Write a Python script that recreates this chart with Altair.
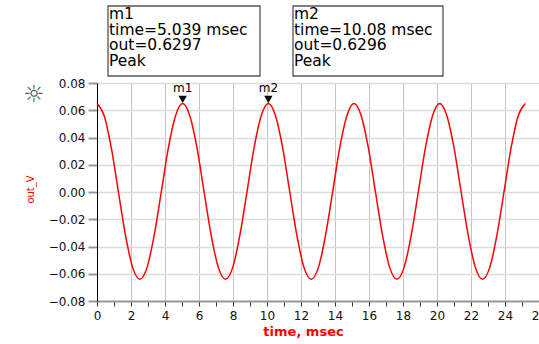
import altair as alt
import pandas as pd

# ---- data ----
time_ms = [0.00, 0.42, 0.84, 1.26, 1.68, 2.10, 2.52, 2.94, 3.36, 3.78, 4.20, 4.62,
           5.04, 5.46, 5.88, 6.30, 6.72, 7.14, 7.56, 7.98, 8.40, 8.82, 9.24, 9.66,
           10.08, 10.50, 10.92, 11.34, 11.76, 12.18, 12.60, 13.02, 13.44, 13.86, 14.28, 14.70,
           15.12, 15.54, 15.96, 16.38, 16.80, 17.22, 17.64, 18.06, 18.48, 18.90, 19.32, 19.74,
           20.16, 20.58, 21.00, 21.42, 21.84, 22.26, 22.68, 23.10, 23.52, 23.94, 24.36, 24.78,
           25.20]
out_v = [0.065, 0.056, 0.0325, 0.000, -0.032, -0.0555, -0.064, -0.0555, -0.032, 0.000, 0.0325, 0.056,
         0.065, 0.056, 0.0325, 0.000, -0.032, -0.0555, -0.064, -0.0555, -0.032, 0.000, 0.0325, 0.056,
         0.065, 0.056, 0.0325, 0.000, -0.032, -0.0555, -0.064, -0.0555, -0.032, 0.000, 0.0325, 0.056,
         0.065, 0.056, 0.0325, 0.000, -0.032, -0.0555, -0.064, -0.0555, -0.032, 0.000, 0.0325, 0.056,
         0.065, 0.056, 0.0325, 0.000, -0.032, -0.0555, -0.064, -0.0555, -0.032, 0.000, 0.0325, 0.056,
         0.065]

marker_names = ["m1", "m2"]
marker_time = [5.039, 10.08]
marker_out = [0.065, 0.065]

box_m1 = ["m1", "time=5.039 msec", "out=0.6297", "Peak"]
box_m2 = ["m2", "time=10.08 msec", "out=0.6296", "Peak"]

x_ticks = list(range(0, 27))
y_ticks = [-0.08, -0.06, -0.04, -0.02, 0.0, 0.02, 0.04, 0.06, 0.08]

FONT = "DejaVu Sans"
RED = "#ff0000"

df = pd.DataFrame({"t": time_ms, "v": out_v})
mk = pd.DataFrame({"name": marker_names, "t": marker_time, "v": marker_out})
one = pd.DataFrame({"a": [0]})

x_enc = alt.X(
    "t:Q",
    scale=alt.Scale(domain=[0, 26], nice=False, zero=False),
    title="time, msec",
    axis=alt.Axis(
        values=x_ticks,
        labelExpr="datum.value % 2 === 0 ? datum.label : ''",
        labelOverlap=False,
        labelFlush=False,
        labelFont=FONT, labelFontSize=12, labelColor="#111", labelPadding=4,
        tickSize=5, tickColor="#333", tickWidth=1,
        domainColor="#999", domainWidth=2,
        grid=True,
        gridColor="#c4c4c4", gridWidth=1,
        gridOpacity={"condition": {"test": "datum.value % 2 !== 0", "value": 0}, "value": 1},
        titleFont=FONT, titleFontSize=13, titleFontWeight="bold", titleColor=RED,
        titleX=206, titleY=24, titleBaseline="top",
    ),
)
y_enc = alt.Y(
    "v:Q",
    scale=alt.Scale(domain=[-0.08, 0.08], nice=False, zero=False),
    title="out_V",
    axis=alt.Axis(
        values=y_ticks,
        format=".2f",
        labelFont=FONT, labelFontSize=12, labelColor="#111", labelPadding=3,
        tickSize=9, tickColor="#999", tickWidth=2,
        domainColor="#000", domainWidth=1,
        grid=True, gridColor="#dcdcdc", gridWidth=1.5,
        titleFont=FONT, titleFontSize=10, titleFontWeight="normal", titleColor=RED,
        titleX=-62, titleY=106, titleAngle=270, titleAlign="center", titleBaseline="bottom",
    ),
)

line = alt.Chart(df).mark_line(color=RED, strokeWidth=1.5, interpolate="monotone").encode(
    x=x_enc, y=y_enc
)

tri = alt.Chart(mk).mark_point(
    shape="triangle-down", filled=True, color="#000", size=70, opacity=1
).encode(x=x_enc, y=y_enc, yOffset=alt.value(-4))

mlabel = alt.Chart(mk).mark_text(
    font=FONT, fontSize=12, color="#000", dy=-15, baseline="middle"
).encode(x=x_enc, y=y_enc, text="name:N")

box1 = alt.Chart(one).mark_rect(fill="white", stroke="#555", strokeWidth=1.3).encode(
    x=alt.value(11), x2=alt.value(163), y=alt.value(-77), y2=alt.value(-7)
)
box2 = alt.Chart(one).mark_rect(fill="white", stroke="#555", strokeWidth=1.3).encode(
    x=alt.value(196), x2=alt.value(346), y=alt.value(-77), y2=alt.value(-7)
)
txt1 = alt.Chart(one).mark_text(
    font=FONT, fontSize=15.5, color="#000", align="left", baseline="top", lineHeight=15.5,
    text=box_m1,
).encode(x=alt.value(12), y=alt.value(-76))
txt2 = alt.Chart(one).mark_text(
    font=FONT, fontSize=15.5, color="#000", align="left", baseline="top", lineHeight=15.5,
    text=box_m2,
).encode(x=alt.value(197), y=alt.value(-76))

icon = alt.Chart(one).mark_text(
    font=FONT, fontSize=24, color="#555", text="☼", baseline="middle", align="center"
).encode(x=alt.value(-63), y=alt.value(12))

chart = alt.layer(line, tri, mlabel, box1, box2, txt1, txt2, icon).properties(
    width=442, height=218,
    autosize=alt.AutoSizeParams(type="none"),
    padding={"left": 97, "top": 83, "right": 0, "bottom": 43},
).configure_view(stroke=None).configure(background="white")

chart.save("out.html", embed_options={"renderer": "svg", "actions": False})
